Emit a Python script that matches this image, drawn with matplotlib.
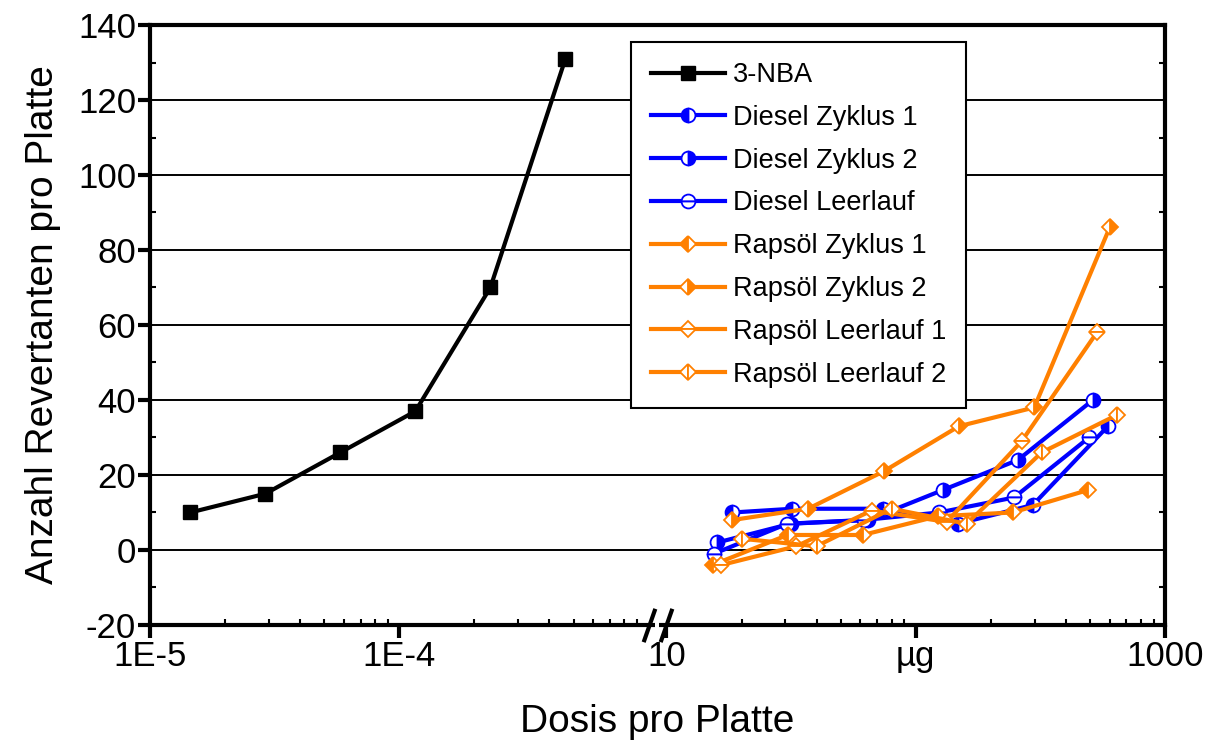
import numpy as np
import matplotlib
matplotlib.use('Agg')
import matplotlib.pyplot as plt
from matplotlib.path import Path
from matplotlib.ticker import FixedLocator, FixedFormatter

# data (dose per plate, revertants per plate)
nba_dose = [1.45e-5, 2.9e-5, 5.8e-5, 1.16e-4, 2.32e-4, 4.64e-4]
nba_rev = [10, 15, 26, 37, 70, 131]

diesel_z1_dose = [18.4, 32, 73.8, 147.6, 295, 590]
diesel_z1_rev = [10, 11, 11, 7, 12, 33]
diesel_z2_dose = [16, 31.5, 64.3, 128.6, 257, 514]
diesel_z2_rev = [2, 7, 8, 16, 24, 40]
diesel_ll_dose = [15.5, 30.5, 62, 124, 248, 496]
diesel_ll_rev = [-1, 7, 8, 10, 14, 30]

raps_z1_dose = [15.3, 30.6, 61.3, 122.6, 245, 492]
raps_z1_rev = [-4, 4, 4, 9, 10, 16]
raps_z2_dose = [18.4, 37, 74.5, 149, 299, 600]
raps_z2_rev = [8, 11, 21, 33, 38, 86]
raps_ll1_dose = [16.6, 33.2, 66.5, 133, 266, 533]
raps_ll1_rev = [-4, 1, 10.5, 7.5, 29, 58]
raps_ll2_dose = [20, 40, 80, 160, 320, 641]
raps_ll2_rev = [3, 1, 11, 7, 26, 36]

x_major = [1e-5, 1e-4, 10, 100, 1000]
x_labels = ['1E-5', '1E-4', '10', 'µg', '1000']
y_major = np.arange(-20, 141, 20)

GAP = 0.072  # decades of empty space at the axis break


def fwd(x):
  x = np.asarray(x, dtype=float)
  with np.errstate(divide='ignore', invalid='ignore'):
    lx = np.log10(x)
  return np.where(x < 1, lx, lx - 4 + GAP)


def inv(u):
  u = np.asarray(u, dtype=float)
  return np.where(u < -3 + GAP / 2, 10.0**u, 10.0**(u + 4 - GAP))


plt.rcParams['font.family'] = ['Liberation Sans', 'DejaVu Sans']
plt.rcParams['axes.unicode_minus'] = False

fig = plt.figure(figsize=(12.11, 7.42), dpi=100)
ax = fig.add_axes([0.1239, 0.1577, 0.962 - 0.1239, 0.9663 - 0.1577])
ax.set_xscale('function', functions=(fwd, inv))

blue = '#0000ff'
orange = '#ff8000'
lw = 3.0

ax.plot(nba_dose, nba_rev, color='black', lw=lw, marker='s', ms=10,
        mfc='black', mec='black', label='3-NBA', zorder=3)

series = [
  (diesel_z1_dose, diesel_z1_rev, blue, 'o', 'left', blue, 'white', 'Diesel Zyklus 1'),
  (diesel_z2_dose, diesel_z2_rev, blue, 'o', 'right', blue, 'white', 'Diesel Zyklus 2'),
  (diesel_ll_dose, diesel_ll_rev, blue, 'o', 'top', 'white', 'white', 'Diesel Leerlauf'),
  (raps_z1_dose, raps_z1_rev, orange, 'D', 'left', orange, 'white', 'Rapsöl Zyklus 1'),
  (raps_z2_dose, raps_z2_rev, orange, 'D', 'right', orange, 'white', 'Rapsöl Zyklus 2'),
  (raps_ll1_dose, raps_ll1_rev, orange, 'D', 'top', 'white', 'white', 'Rapsöl Leerlauf 1'),
  (raps_ll2_dose, raps_ll2_rev, orange, 'D', 'left', 'white', 'white', 'Rapsöl Leerlauf 2'),
]
for dose, rev, col, mk, fs, fc, fcalt, lab in series:
  ms = 10 if mk == 'o' else 8.5
  ax.plot(dose, rev, color=col, lw=lw, marker=mk, ms=ms, fillstyle=fs,
          mfc=fc, mfcalt=fcalt, mec=col, mew=1.3, label=lab, zorder=3)

ax.set_xlim(1e-5, 1000)
ax.set_ylim(-20, 140)

ax.xaxis.set_major_locator(FixedLocator(x_major))
ax.xaxis.set_major_formatter(FixedFormatter(x_labels))
x_minor = [m * 10.0**e for e in (-5, -4) for m in range(2, 10)] + \
          [m * 10.0**e for e in (1, 2) for m in range(2, 10)]
ax.xaxis.set_minor_locator(FixedLocator(x_minor))
ax.yaxis.set_major_locator(FixedLocator(y_major))
ax.yaxis.set_minor_locator(FixedLocator(np.arange(-10, 140, 20)))

ax.grid(axis='y', which='major', color='black', lw=1.4, zorder=0)
ax.set_axisbelow(True)

ax.tick_params(which='major', direction='out', length=9, width=3, labelsize=25, pad=2)
ax.tick_params(which='minor', direction='in', length=4, width=1.5)
ax.tick_params(axis='y', which='major', pad=1, right=False)
ax.tick_params(axis='y', which='minor', right=True)
[sp.set_linewidth(3) for sp in ax.spines.values()]

ax.set_ylabel('Anzahl Revertanten pro Platte', fontsize=28, labelpad=12)
ax.set_xlabel('Dosis pro Platte', fontsize=28, labelpad=22)

# axis break on the bottom spine
xt = ax.get_xaxis_transform()
ax.plot([1.1e-3, 9.0], [0, 0], transform=xt, color='white', lw=6,
        solid_capstyle='butt', clip_on=False, zorder=5)
slash = Path([(-0.35, -1.0), (0.35, 1.0)], [Path.MOVETO, Path.LINETO])
ax.plot([1e-3, 10], [0, 0], transform=xt, ls='none', marker=slash, ms=24,
        mec='black', mew=3, clip_on=False, zorder=6)

leg = ax.legend(loc='upper left', bbox_to_anchor=(0.474, 0.972), fancybox=False,
                framealpha=1, edgecolor='black', borderpad=0.75, labelspacing=0.62,
                handlelength=2.7, handletextpad=0.3, borderaxespad=0,
                prop={'size': 19.5})
leg.get_frame().set_linewidth(1.5)
leg.set_zorder(10)

fig.savefig('out.png', dpi=100)
